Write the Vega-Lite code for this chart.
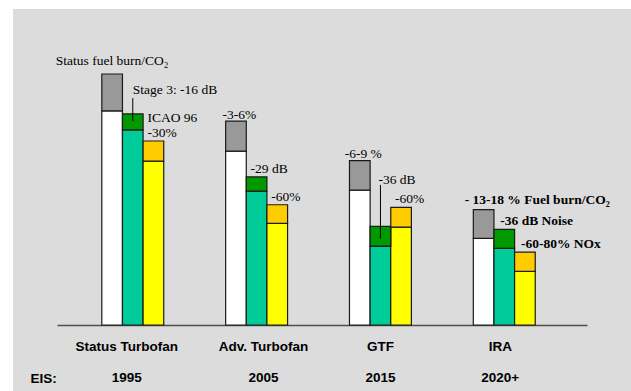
{
  "$schema": "https://vega.github.io/schema/vega-lite/v6.json",
  "width": 618,
  "height": 382,
  "autosize": {"type": "none"},
  "padding": {"left": 13, "top": 9, "right": 0, "bottom": 0},
  "background": "#ffffff",
  "config": {"view": {"fill": "#dcdcdc", "stroke": null}},
  "datasets": {
    "bars": [
      {"engine": "Status Turbofan", "series": "fuel", "base": 85.3, "total": 100.0},
      {"engine": "Status Turbofan", "series": "noise", "base": 77.7, "total": 84.1},
      {"engine": "Status Turbofan", "series": "nox", "base": 65.3, "total": 73.3},
      {"engine": "Adv. Turbofan", "series": "fuel", "base": 69.3, "total": 81.2},
      {"engine": "Adv. Turbofan", "series": "noise", "base": 53.3, "total": 59.0},
      {"engine": "Adv. Turbofan", "series": "nox", "base": 40.5, "total": 47.9},
      {"engine": "GTF", "series": "fuel", "base": 53.7, "total": 65.5},
      {"engine": "GTF", "series": "noise", "base": 31.4, "total": 39.3},
      {"engine": "GTF", "series": "nox", "base": 39.0, "total": 46.9},
      {"engine": "IRA", "series": "fuel", "base": 34.5, "total": 46.0},
      {"engine": "IRA", "series": "noise", "base": 30.5, "total": 38.1},
      {"engine": "IRA", "series": "nox", "base": 21.4, "total": 29.0}
    ],
    "notes": [
      {"engine": "Status Turbofan", "series": "fuel", "total": 100.0, "note": "Status fuel burn/CO₂"},
      {"engine": "Status Turbofan", "series": "noise", "total": 84.1, "note": "Stage 3: -16 dB"},
      {"engine": "Status Turbofan", "series": "nox", "total": 73.3, "note": "ICAO 96"},
      {"engine": "Status Turbofan", "series": "nox", "total": 73.3, "note": "-30%"},
      {"engine": "Adv. Turbofan", "series": "fuel", "total": 81.2, "note": "-3-6%"},
      {"engine": "Adv. Turbofan", "series": "noise", "total": 59.0, "note": "-29 dB"},
      {"engine": "Adv. Turbofan", "series": "nox", "total": 47.9, "note": "-60%"},
      {"engine": "GTF", "series": "fuel", "total": 65.5, "note": "-6-9 %"},
      {"engine": "GTF", "series": "noise", "total": 39.3, "note": "-36 dB"},
      {"engine": "GTF", "series": "nox", "total": 46.9, "note": "-60%"},
      {"engine": "IRA", "series": "fuel", "total": 46.0, "note": "- 13-18 % Fuel burn/CO₂"},
      {"engine": "IRA", "series": "noise", "total": 38.1, "note": "-36 dB Noise"},
      {"engine": "IRA", "series": "nox", "total": 29.0, "note": "-60-80% NOx"}
    ],
    "leaders": [
      {"engine": "Status Turbofan", "series": "noise", "from": 90.4, "to": 81.3},
      {"engine": "GTF", "series": "noise", "from": 55.8, "to": 34.4}
    ]
  },
  "encoding": {
    "x": {
      "field": "engine",
      "type": "nominal",
      "sort": ["Status Turbofan", "Adv. Turbofan", "GTF", "IRA"],
      "scale": {"range": [44, 574], "paddingInner": 0.5, "paddingOuter": 0.39, "align": 0.464},
      "axis": {
        "orient": "bottom",
        "offset": -66,
        "domainColor": "#4d4d4d",
        "domainWidth": 1.6,
        "ticks": false,
        "tickSize": 0,
        "grid": false,
        "labelAngle": 0,
        "labelFont": "Liberation Sans",
        "labelFontSize": 13.5,
        "labelFontWeight": "bold",
        "labelColor": "#000000",
        "labelPadding": 14,
        "labelBaseline": "top",
        "labelLineHeight": 31,
        "labelOverlap": false,
        "labelBound": false,
        "labelFlush": false,
        "labelExpr": "[datum.value, datum.value == 'Status Turbofan' ? '1995' : datum.value == 'Adv. Turbofan' ? '2005' : datum.value == 'GTF' ? '2015' : '2020+']",
        "labelOffset": {
          "condition": [
            {"test": "datum.value == 'Status Turbofan'", "value": -6},
            {"test": "datum.value == 'Adv. Turbofan'", "value": 7},
            {"test": "datum.value == 'IRA'", "value": -4}
          ],
          "value": 0
        },
        "title": "EIS:",
        "titleFont": "Liberation Sans",
        "titleFontSize": 13.5,
        "titleFontWeight": "bold",
        "titleColor": "#000000",
        "titleAngle": 0,
        "titleAlign": "left",
        "titleAnchor": "start",
        "titleBaseline": "alphabetic",
        "titleX": 17,
        "titleY": 57
      }
    },
    "xOffset": {
      "field": "series",
      "type": "nominal",
      "scale": {"domain": ["fuel", "noise", "nox"], "paddingInner": 0, "paddingOuter": 0}
    }
  },
  "layer": [
    {
      "data": {"name": "bars"},
      "mark": {"type": "bar", "stroke": "#1a1a1a", "strokeWidth": 1.2},
      "encoding": {
        "y": {
          "field": "base",
          "type": "quantitative",
          "stack": null,
          "scale": {"domain": [0, 100], "range": [316, 65], "nice": false, "zero": true},
          "axis": null
        },
        "color": {
          "field": "series",
          "type": "nominal",
          "scale": {"domain": ["fuel", "noise", "nox"], "range": ["#ffffff", "#00cc99", "#ffff00"]},
          "legend": null
        }
      }
    },
    {
      "data": {"name": "bars"},
      "mark": {"type": "bar", "stroke": "#1a1a1a", "strokeWidth": 1.2},
      "encoding": {
        "y": {"field": "base", "type": "quantitative", "stack": null},
        "y2": {"field": "total"},
        "color": {
          "field": "series",
          "type": "nominal",
          "scale": {"domain": ["fuel", "noise", "nox"], "range": ["#999999", "#009900", "#ffcc00"]},
          "legend": null
        }
      }
    },
    {
      "data": {"name": "leaders"},
      "mark": {"type": "rule", "color": "#000000", "strokeWidth": 1},
      "encoding": {
        "y": {"field": "from", "type": "quantitative"},
        "y2": {"field": "to"}
      }
    },
    {
      "data": {"name": "notes"},
      "transform": [{"filter": {"field": "note", "oneOf": ["Status fuel burn/CO₂"]}}],
      "mark": {"type": "text", "font": "Liberation Serif", "fontSize": 13.5, "color": "#000000", "align": "center", "baseline": "middle", "dx": 0, "dy": -13},
      "encoding": {"y": {"field": "total", "type": "quantitative"}, "text": {"field": "note"}}
    },
    {
      "data": {"name": "notes"},
      "transform": [{"filter": {"field": "note", "oneOf": ["-3-6%", "-6-9 %"]}}],
      "mark": {"type": "text", "font": "Liberation Serif", "fontSize": 13.5, "color": "#000000", "align": "center", "baseline": "middle", "dx": 3.5, "dy": -6.5},
      "encoding": {"y": {"field": "total", "type": "quantitative"}, "text": {"field": "note"}}
    },
    {
      "data": {"name": "notes"},
      "transform": [{"filter": {"field": "note", "oneOf": ["-30%", "-29 dB", "-60%"]}}],
      "mark": {"type": "text", "font": "Liberation Serif", "fontSize": 13.5, "color": "#000000", "align": "left", "baseline": "middle", "dx": -6, "dy": -8},
      "encoding": {"y": {"field": "total", "type": "quantitative"}, "text": {"field": "note"}}
    },
    {
      "data": {"name": "notes"},
      "transform": [{"filter": {"field": "note", "oneOf": ["Stage 3: -16 dB"]}}],
      "mark": {"type": "text", "font": "Liberation Serif", "fontSize": 13.5, "color": "#000000", "align": "left", "baseline": "middle", "dx": 0, "dy": -24},
      "encoding": {"y": {"field": "total", "type": "quantitative"}, "text": {"field": "note"}}
    },
    {
      "data": {"name": "notes"},
      "transform": [{"filter": {"field": "note", "oneOf": ["ICAO 96"]}}],
      "mark": {"type": "text", "font": "Liberation Serif", "fontSize": 13.5, "color": "#000000", "align": "left", "baseline": "middle", "dx": -6, "dy": -23},
      "encoding": {"y": {"field": "total", "type": "quantitative"}, "text": {"field": "note"}}
    },
    {
      "data": {"name": "notes"},
      "transform": [{"filter": {"field": "note", "oneOf": ["-36 dB"]}}],
      "mark": {"type": "text", "font": "Liberation Serif", "fontSize": 13.5, "color": "#000000", "align": "left", "baseline": "middle", "dx": -2, "dy": -46},
      "encoding": {"y": {"field": "total", "type": "quantitative"}, "text": {"field": "note"}}
    },
    {
      "data": {"name": "notes"},
      "transform": [{"filter": {"field": "note", "oneOf": ["- 13-18 % Fuel burn/CO₂"]}}],
      "mark": {"type": "text", "font": "Liberation Serif", "fontSize": 13.5, "fontWeight": "bold", "color": "#000000", "align": "left", "baseline": "middle", "dx": -19, "dy": -10},
      "encoding": {"y": {"field": "total", "type": "quantitative"}, "text": {"field": "note"}}
    },
    {
      "data": {"name": "notes"},
      "transform": [{"filter": {"field": "note", "oneOf": ["-36 dB Noise", "-60-80% NOx"]}}],
      "mark": {"type": "text", "font": "Liberation Serif", "fontSize": 13.5, "fontWeight": "bold", "color": "#000000", "align": "left", "baseline": "middle", "dx": -4, "dy": -8.5},
      "encoding": {"y": {"field": "total", "type": "quantitative"}, "text": {"field": "note"}}
    }
  ],
  "resolve": {"scale": {"color": "independent"}}
}
